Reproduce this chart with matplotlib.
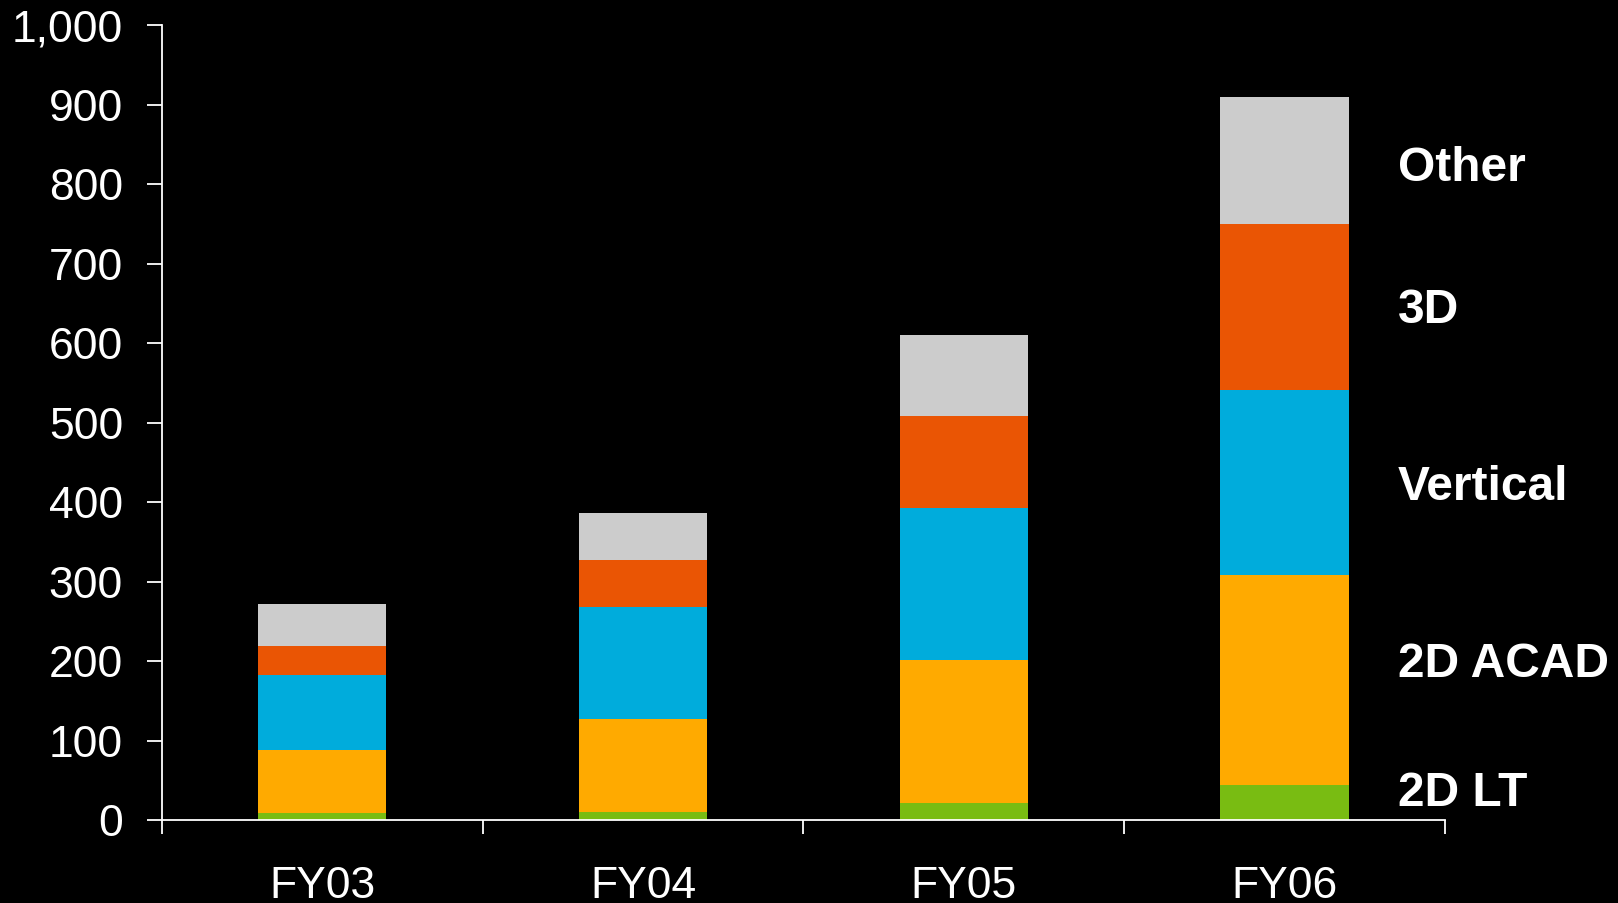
import numpy as np
import matplotlib.pyplot as plt
from matplotlib.ticker import FuncFormatter

years = ['FY03', 'FY04', 'FY05', 'FY06']
series_names = ['2D LT', '2D ACAD', 'Vertical', '3D', 'Other']
lt = [9, 11, 22, 44]
acad = [80, 117, 180, 264]
vertical = [94, 140, 191, 233]
three_d = [36, 59, 116, 209]
other = [53, 60, 101, 160]
label_y = [34, 196, 419, 641, 820]

colors = ['#79BC12', '#FFAA00', '#00ACDC', '#EA5504', '#CCCCCC']

plt.rcParams['font.family'] = ['Liberation Sans', 'DejaVu Sans']

fig = plt.figure(figsize=(16.18, 9.031), dpi=100, facecolor='black')
ax = fig.add_axes([0.1001, 0.0915, 0.793, 0.8805])
ax.set_facecolor('black')

x = np.arange(len(years))
bottom = np.zeros(len(years))
for vals, col in zip([lt, acad, vertical, three_d, other], colors):
    ax.bar(x, vals, width=0.4, bottom=bottom, color=col, linewidth=0)
    bottom += np.array(vals)

ax.set_xlim(-0.5, 3.5)
ax.set_ylim(0, 1000)

for s in ['top', 'right']:
    ax.spines[s].set_visible(False)
for s in ['left', 'bottom']:
    ax.spines[s].set_color('white')
    ax.spines[s].set_linewidth(1.3)

ax.set_yticks(np.arange(0, 1001, 100))
ax.yaxis.set_major_formatter(FuncFormatter(lambda v, p: f'{int(v):,}'))
ax.tick_params(axis='y', colors='white', labelsize=32, length=11, width=1.3,
               direction='out', pad=17)

# tick marks between categories, labels at centres
ax.set_xticks(np.arange(-0.5, 4, 1))
ax.set_xticklabels([])
ax.set_xticks(x, minor=True)
ax.set_xticklabels(years, minor=True)
ax.tick_params(axis='x', which='major', colors='white', length=10, width=1.3)
ax.tick_params(axis='x', which='minor', colors='white', length=0,
               labelsize=32, pad=33)

for name, yy in zip(series_names, label_y):
    ax.text(3.352, yy, name, color='white', fontsize=34.5, fontweight='bold',
            va='center', ha='left', clip_on=False)

fig.savefig('out.png', dpi=100, facecolor='black')
